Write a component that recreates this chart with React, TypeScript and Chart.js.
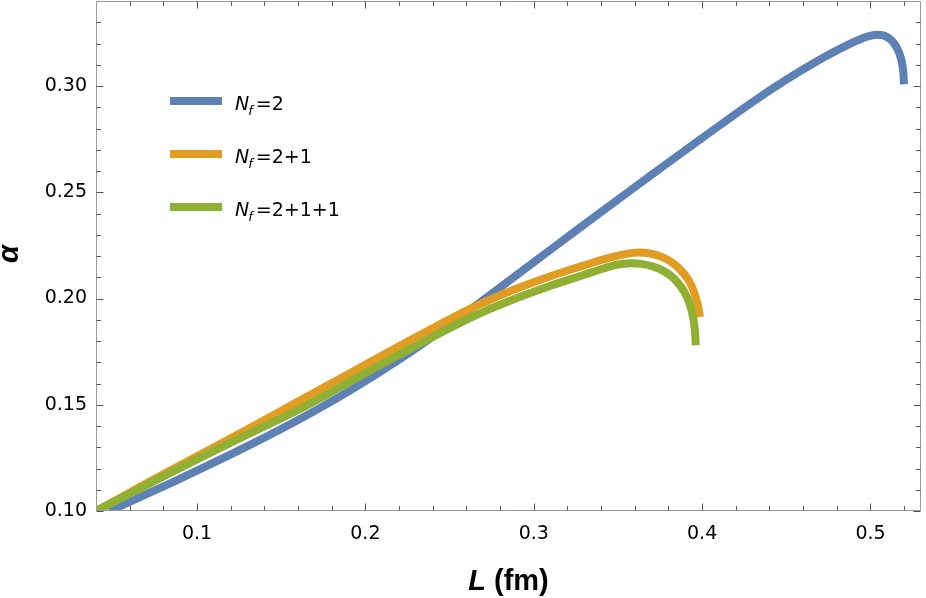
import React, { useEffect, useRef } from "react";
import { Chart, registerables } from "chart.js";
Chart.register(...registerables);

// ---- data ----
const nf2L = [0.048, 0.07, 0.10, 0.13, 0.16, 0.19, 0.22, 0.25, 0.28, 0.31, 0.34, 0.37, 0.40, 0.43, 0.45, 0.47, 0.485, 0.495, 0.502, 0.508, 0.5125, 0.516, 0.5183, 0.5195, 0.5199];
const nf2A = [0.100, 0.1079, 0.1190, 0.1305, 0.1428, 0.1563, 0.1712, 0.1877, 0.2052, 0.2230, 0.2407, 0.2582, 0.2755, 0.2925, 0.3030, 0.3125, 0.3188, 0.3224, 0.3240, 0.3237, 0.3215, 0.3175, 0.3125, 0.3065, 0.3008];

const nf21L = [0.04, 0.07, 0.10, 0.13, 0.16, 0.19, 0.22, 0.25, 0.27, 0.29, 0.31, 0.33, 0.345, 0.355, 0.362, 0.369, 0.376, 0.382, 0.387, 0.391, 0.394, 0.3965, 0.398, 0.3987];
const nf21A = [0.1000, 0.1130, 0.1258, 0.1385, 0.1515, 0.1645, 0.1775, 0.1902, 0.1980, 0.2047, 0.2105, 0.2156, 0.2192, 0.2210, 0.2216, 0.2212, 0.2196, 0.2170, 0.2136, 0.2098, 0.2055, 0.1998, 0.1948, 0.1912];

const nf211L = [0.04, 0.07, 0.10, 0.13, 0.16, 0.19, 0.22, 0.25, 0.27, 0.29, 0.31, 0.33, 0.342, 0.350, 0.357, 0.364, 0.371, 0.377, 0.382, 0.386, 0.3895, 0.3928, 0.3948, 0.3958, 0.3962];
const nf211A = [0.1000, 0.1122, 0.1243, 0.1360, 0.1475, 0.1605, 0.1735, 0.1860, 0.1937, 0.2002, 0.2060, 0.2112, 0.2143, 0.2160, 0.2166, 0.2163, 0.2150, 0.2130, 0.2103, 0.2070, 0.2030, 0.1970, 0.1905, 0.1840, 0.1780];

const seriesNames = ["2", "2+1", "2+1+1"];
const seriesColors = ["#5E81B5", "#E19C24", "#8FB032"];

const xMajorTicks = [0.1, 0.2, 0.3, 0.4, 0.5];
const xMinorTicks = [0.06, 0.08, 0.12, 0.14, 0.16, 0.18, 0.22, 0.24, 0.26, 0.28, 0.32, 0.34, 0.36, 0.38, 0.42, 0.44, 0.46, 0.48, 0.52];
const yMajorTicks = [0.10, 0.15, 0.20, 0.25, 0.30];
const yMinorTicks = [0.11, 0.12, 0.13, 0.14, 0.16, 0.17, 0.18, 0.19, 0.21, 0.22, 0.23, 0.24, 0.26, 0.27, 0.28, 0.29, 0.31, 0.32, 0.33];

const X_MIN = 0.04, X_MAX = 0.53, Y_MIN = 0.10, Y_MAX = 0.34;

const toPoints = (xs: number[], ys: number[]) => xs.map((x, i) => ({ x, y: ys[i] }));

const FONT = "'Liberation Sans', Arial, sans-serif";
const TFONT = "'DejaVu Sans', 'Liberation Sans', sans-serif";

const framePlugin = {
  id: "mmaFrame",
  afterDraw(chart: any) {
    const { ctx, chartArea: a, scales } = chart;
    const xs = scales.x, ys = scales.y;
    const L = Math.round(a.left) + 0.5, R = Math.round(a.right) - 0.5;
    const T = Math.round(a.top) + 0.5, B = Math.round(a.bottom) - 0.5;
    ctx.save();
    // frame
    ctx.strokeStyle = "#9a9a9a";
    ctx.lineWidth = 1;
    ctx.beginPath();
    ctx.rect(L, T, R - L, B - T);
    ctx.stroke();
    // ticks (inside the frame, on all four sides)
    ctx.strokeStyle = "#555555";
    ctx.beginPath();
    const xt = (v: number, len: number) => {
      const p = Math.round(xs.getPixelForValue(v)) + 0.5;
      ctx.moveTo(p, B); ctx.lineTo(p, B - len);
      ctx.moveTo(p, T); ctx.lineTo(p, T + len);
    };
    const yt = (v: number, len: number) => {
      const p = Math.round(ys.getPixelForValue(v)) + 0.5;
      ctx.moveTo(L, p); ctx.lineTo(L + len, p);
      ctx.moveTo(R, p); ctx.lineTo(R - len, p);
    };
    xMajorTicks.forEach((v) => xt(v, 7));
    xMinorTicks.forEach((v) => xt(v, 4.5));
    yMajorTicks.forEach((v) => yt(v, 7));
    yMinorTicks.forEach((v) => yt(v, 4.5));
    ctx.stroke();

    // axis titles
    ctx.fillStyle = "#000";
    ctx.textBaseline = "alphabetic";
    ctx.font = `italic bold 29px ${FONT}`;
    const wL = ctx.measureText("L").width;
    ctx.font = `bold 29px ${FONT}`;
    const wRest = ctx.measureText(" (fm)").width;
    const cx = (a.left + a.right) / 2;
    const sx = cx - (wL + wRest) / 2;
    ctx.textAlign = "left";
    ctx.font = `italic bold 29px ${FONT}`;
    ctx.fillText("L", sx, 590);
    ctx.font = `bold 29px ${FONT}`;
    ctx.fillText(" (fm)", sx + wL, 590);

    ctx.save();
    ctx.translate(18, (a.top + a.bottom) / 2 - 2);
    ctx.rotate(-Math.PI / 2);
    ctx.textAlign = "center";
    ctx.font = `italic bold 29px ${FONT}`;
    ctx.fillText("α", 0, 0);
    ctx.restore();

    // legend
    const lx0 = a.left + 74, lx1 = a.left + 126, tx = a.left + 139;
    seriesNames.forEach((name, i) => {
      const yc = a.top + 100 + i * 53;
      ctx.strokeStyle = seriesColors[i];
      ctx.lineWidth = 8;
      ctx.lineCap = "butt";
      ctx.beginPath();
      ctx.moveTo(lx0, yc); ctx.lineTo(lx1, yc);
      ctx.stroke();
      ctx.fillStyle = "#000";
      ctx.textAlign = "left";
      let px = tx;
      ctx.font = `italic 19px ${TFONT}`;
      ctx.fillText("N", px, yc + 9);
      px += ctx.measureText("N").width;
      ctx.font = `italic 13px ${TFONT}`;
      ctx.fillText("f", px - 1, yc + 14);
      px += ctx.measureText("f").width + 2;
      ctx.font = `19px ${TFONT}`;
      ctx.fillText("=" + name, px, yc + 9);
    });
    ctx.restore();
  },
};

export default function App() {
  const ref = useRef<HTMLCanvasElement | null>(null);
  useEffect(() => {
    if (!ref.current) return;
    const line = (xs: number[], ys: number[], i: number, order: number) => ({
      label: "Nf=" + seriesNames[i],
      data: toPoints(xs, ys),
      borderColor: seriesColors[i],
      backgroundColor: seriesColors[i],
      borderWidth: 8,
      pointRadius: 0,
      showLine: true,
      fill: false,
      tension: 0.4,
      borderCapStyle: "butt" as const,
      order,
    });
    const chart = new Chart(ref.current, {
      type: "scatter",
      data: {
        datasets: [
          line(nf2L, nf2A, 0, 3),
          line(nf21L, nf21A, 1, 2),
          line(nf211L, nf211A, 2, 1),
        ],
      },
      options: {
        animation: false,
        responsive: false,
        events: [],
        layout: { padding: { left: 0, right: 5, top: 1, bottom: 0 } },
        plugins: { legend: { display: false }, tooltip: { enabled: false } },
        scales: {
          x: {
            type: "linear",
            min: X_MIN,
            max: X_MAX,
            grid: { display: false, drawTicks: false },
            border: { display: false },
            afterBuildTicks: (s: any) => { s.ticks = xMajorTicks.map((v) => ({ value: v })); },
            afterFit: (s: any) => { s.height = 87; s.paddingLeft = 0; s.paddingRight = 0; },
            ticks: {
              padding: 12,
              color: "#000",
              font: { family: TFONT, size: 19 },
              callback: (v: any) => Number(v).toFixed(1),
              maxRotation: 0,
              autoSkip: false,
            },
          },
          y: {
            type: "linear",
            min: Y_MIN,
            max: Y_MAX,
            grid: { display: false, drawTicks: false },
            border: { display: false },
            afterBuildTicks: (s: any) => { s.ticks = yMajorTicks.map((v) => ({ value: v })); },
            afterFit: (s: any) => { s.width = 96; s.paddingTop = 0; s.paddingBottom = 0; },
            ticks: {
              padding: 9,
              color: "#000",
              font: { family: TFONT, size: 19 },
              callback: (v: any) => Number(v).toFixed(2),
              autoSkip: false,
            },
          },
        },
      },
      plugins: [framePlugin],
    });
    return () => chart.destroy();
  }, []);
  return (
    <div style={{ position: "absolute", left: 0, top: 0, width: 926, height: 598, background: "#fff" }}>
      <canvas ref={ref} width={926} height={598} style={{ display: "block" }} />
    </div>
  );
}
